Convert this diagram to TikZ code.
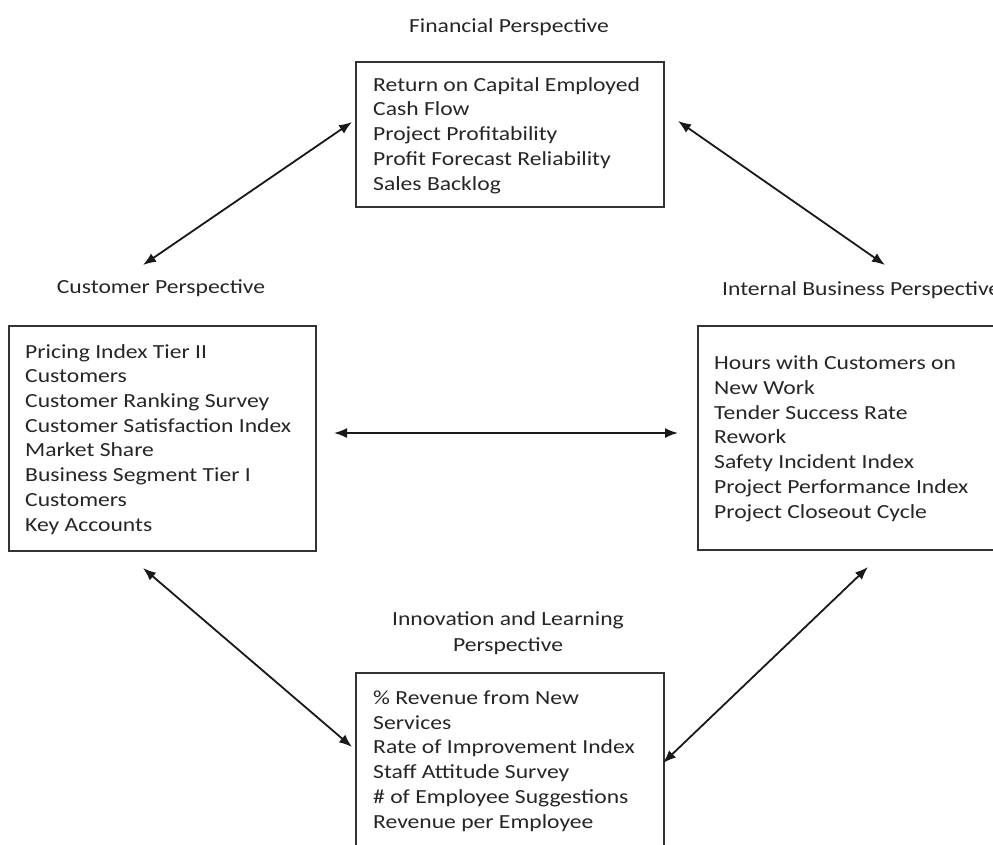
\documentclass[tikz,border=0pt]{standalone}
\usepackage{fontspec}
\setmainfont[FakeStretch=1.18]{Carlito}
\usetikzlibrary{arrows.meta}
\begin{document}
\begin{tikzpicture}[x=1pt,y=-1pt,
  box/.style={draw=black!80,line width=1.5pt,inner sep=0pt,anchor=north west},
  title/.style={font=\fontsize{20}{26}\selectfont,text=black!85,inner sep=0pt,anchor=base,align=center},
  items/.style={font=\fontsize{20}{24.7}\selectfont,text=black!85,inner sep=0pt,anchor=base west,align=left},
  dbl/.style={{Latex[length=13pt,width=10pt]}-{Latex[length=13pt,width=10pt]},line width=1.8pt,black!90}]
\useasboundingbox (0,0) rectangle (993,844);
\clip (0,0) rectangle (993,844);
\fill[white] (0,0) rectangle (993,844);

% boxes
\node[box,minimum width=308pt,minimum height=145pt] (finbox) at (355,61) {};
\node[box,minimum width=307pt,minimum height=225pt] (custbox) at (8,325) {};
\node[box,minimum width=310pt,minimum height=224pt] (intbox) at (697,325) {};
\node[box,minimum width=308pt,minimum height=200pt] (innbox) at (355,672) {};

% titles (anchor base = baseline of last line)
\node[title] (fintitle) at (509,32) {Financial Perspective};
\node[title] (custtitle) at (161,293) {Customer Perspective};
\node[title,anchor=base west] (inttitle) at (722,295) {Internal Business Perspective};
\node[title] (inntitle) at (508,651) {Innovation and Learning\\Perspective};

% contents (anchor base west = baseline of last line)
\node[items] (fintext) at (373,190) {Return on Capital Employed\\Cash Flow\\Project Profitability\\Profit Forecast Reliability\\Sales Backlog};
\node[items] (custtext) at (25,531) {Pricing Index Tier II\\Customers\\Customer Ranking Survey\\Customer Satisfaction Index\\Market Share\\Business Segment Tier I\\Customers\\Key Accounts};
\node[items] (inttext) at (714,518) {Hours with Customers on\\New Work\\Tender Success Rate\\Rework\\Safety Incident Index\\Project Performance Index\\Project Closeout Cycle};
\node[items] (inntext) at (373,828) {\% Revenue from New\\Services\\Rate of Improvement Index\\Staff Attitude Survey\\\# of Employee Suggestions\\Revenue per Employee};

% arrow end points
\coordinate (fc1) at (352,122);
\coordinate (fc2) at (143,265);
\coordinate (fi1) at (678,121);
\coordinate (fi2) at (885,265);
\coordinate (ci1) at (334,433);
\coordinate (ci2) at (678,433);
\coordinate (cn1) at (143,568);
\coordinate (cn2) at (352,747);
\coordinate (in1) at (868,567);
\coordinate (in2) at (663,763);

\draw[dbl] (fc1) -- (fc2);
\draw[dbl] (fi1) -- (fi2);
\draw[dbl] (ci1) -- (ci2);
\draw[dbl] (cn1) -- (cn2);
\draw[dbl] (in1) -- (in2);
\end{tikzpicture}
\end{document}
